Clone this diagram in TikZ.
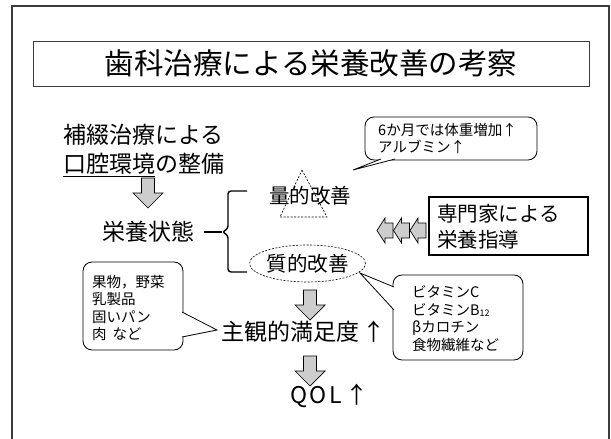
\documentclass[tikz,border=0pt]{standalone}
\usepackage{fontspec}
\setmainfont{Noto Sans CJK JP}
\usetikzlibrary{shapes.geometric}

\begin{document}
\begin{tikzpicture}[x=1pt,y=-1pt]
\useasboundingbox (0,0) rectangle (611,439);
\definecolor{frameColor}{RGB}{60,60,60}
\definecolor{arrowFill}{RGB}{205,205,205}
\tikzset{
  big/.style={inner sep=0pt, font=\fontsize{23}{27}\selectfont},
  mid/.style={inner sep=0pt, align=left, font=\fontsize{20.5}{26}\selectfont},
  small/.style={inner sep=0pt, align=left, font=\fontsize{14.5}{17.5}\selectfont},
  bubble/.style={draw, rounded corners=9pt, fill=white, line width=0.8pt},
  downblock/.pic={\draw[fill=arrowFill, line width=0.7pt] (-6.5,0) -- (6.5,0) -- (6.5,15) -- (15,15) -- (0,30) -- (-15,15) -- (-6.5,15) -- cycle;},
  leftblock/.pic={\draw[fill=arrowFill, line width=0.7pt] (0,0) -- (8,-12.5) -- (8,-7.5) -- (16,-7.5) -- (16,7.5) -- (8,7.5) -- (8,12.5) -- cycle;}
}
% frame and title
\draw[frameColor, line width=1.3pt] (12,445) -- (12,6) -- (609,6) -- (609,445);
\node[draw, frameColor, line width=1pt, inner sep=0pt, minimum width=556pt, minimum height=45pt, text=black, font=\fontsize{29.5}{30}\selectfont] (title) at (311,63.5) {歯科治療による栄養改善の考察};
% left column
\node[big, anchor=west] (prosth) at (63,135) {補綴治療による};
\node[big, anchor=west] (oral) at (63,165) {\underline{口腔環境}の整備};
\pic at (148,178) {downblock};
\node[big] (status) at (148,232) {栄養状態};
\coordinate (braceTip) at (222,232);
\draw[line width=1.2pt] (status.east) ++(10,0) -- (braceTip);
\draw[line width=1.4pt, rounded corners=3pt] (247,191) -- (228,191) -- (228,229) -- (braceTip) -- (228,235) -- (228,272) -- (247,272);
% quantity / quality
\draw[dash pattern=on 2pt off 1.5pt, line width=0.6pt] (302,170) -- (327,217) -- (280,217) -- cycle;
\node[mid] (quant) at (310,196) {量的改善};
\node[draw, ellipse, dash pattern=on 2pt off 1.5pt, line width=0.6pt, inner sep=0pt, minimum width=109pt, minimum height=37pt, mid] (qual) at (307.5,263.5) {質的改善};
% callout: weight
\node[bubble, minimum width=172pt, minimum height=43pt] (weightBox) at (451,138.5) {};
\coordinate (weightTip) at (353,170);
\fill[white] (381,159) -- (weightTip) -- (395,159) -- cycle;
\draw[line width=0.8pt] (381,159) -- (weightTip) -- (395,159);
\node[small, anchor=west] (weightText) at (378,138.5) {6か月では体重増加↑\\アルブミン↑};
% expert guidance
\node[draw, line width=2pt, minimum width=159pt, minimum height=58pt] (expertBox) at (508.5,226) {};
\node[mid, anchor=west] (expertText) at (437,227) {専門家による\\栄養指導};
\foreach \x in {377,393.5,410}
  \pic at (\x,230.5) {leftblock};
% callout: vitamins
\node[bubble, minimum width=130pt, minimum height=85pt] (vitBox) at (458,317.5) {};
\coordinate (vitTip) at (360,273);
\fill[white] (394,287) -- (vitTip) -- (394,310) -- cycle;
\draw[line width=0.8pt] (394,287) -- (vitTip) -- (394,310);
\node[small, anchor=west] (vitText) at (412,318.5) {ビタミンC\\ビタミンB{\fontsize{9}{9}\selectfont\raisebox{-1.5pt}{12}}\\βカロチン\\食物繊維など};
% callout: foods
\node[bubble, minimum width=100pt, minimum height=88pt] (foodBox) at (133,306) {};
\coordinate (foodTip) at (217,330);
\fill[white] (182,312) -- (foodTip) -- (182,337) -- cycle;
\draw[line width=0.8pt] (182,312) -- (foodTip) -- (182,337);
\node[small, anchor=west] (foodText) at (92,308) {果物，野菜\\乳製品\\固いパン\\肉\kern6pt など};
% outcome
\pic at (310,290) {downblock};
\node[big, anchor=west] (satisf) at (221,332) {主観的満足度\kern3pt↑};
\pic at (310,356) {downblock};
\node[big, anchor=west] (qol) at (290,396) {Q\kern2.5pt O\kern2.5pt L\kern4pt↑};
\end{tikzpicture}
\end{document}
